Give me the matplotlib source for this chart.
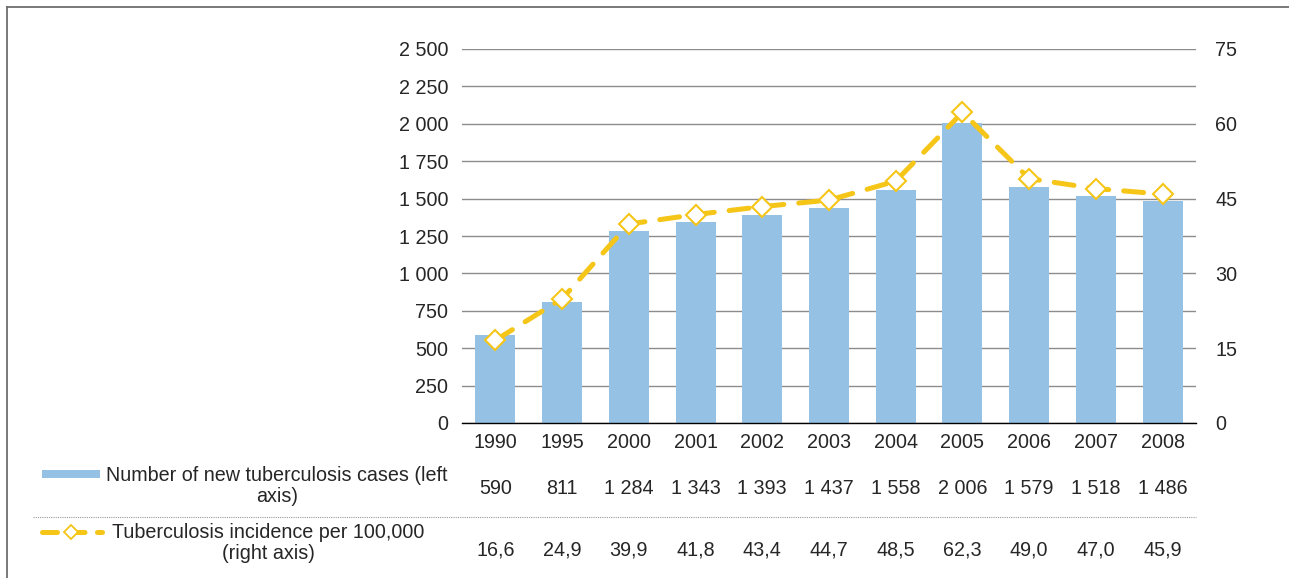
import matplotlib
matplotlib.use("Agg")
import matplotlib.pyplot as plt
from matplotlib.lines import Line2D
from matplotlib.patches import Rectangle
import matplotlib.transforms as mtransforms
from matplotlib.ticker import FuncFormatter

plt.rcParams['font.family'] = ['Liberation Sans', 'DejaVu Sans']

years = ["1990", "1995", "2000", "2001", "2002", "2003", "2004", "2005", "2006", "2007", "2008"]
cases = [590, 811, 1284, 1343, 1393, 1437, 1558, 2006, 1579, 1518, 1486]
incidence = [16.6, 24.9, 39.9, 41.8, 43.4, 44.7, 48.5, 62.3, 49.0, 47.0, 45.9]
label_cases = "Number of new tuberculosis cases (left\naxis)"
label_inc = "Tuberculosis incidence per 100,000\n(right axis)"

BAR = "#95C1E4"
YEL = "#F5C518"
TXT = "#262626"
GRID = "#8C8C8C"
FS = 14.2

W, H = 1289, 578
fig = plt.figure(figsize=(W / 100, H / 100), dpi=100)
ax = fig.add_axes([462 / W, 1 - 423 / H, (1196 - 462) / W, (423 - 49) / H])

x = list(range(len(years)))
ax.bar(x, cases, width=0.6, color=BAR, zorder=2)
ax.set_xlim(-0.5, len(years) - 0.5)
ax.set_ylim(0, 2500)
ax.set_yticks(range(0, 2501, 250))
ax.yaxis.set_major_formatter(FuncFormatter(lambda v, p: f"{int(v):,}".replace(",", " ")))
ax.grid(axis='y', color=GRID, linewidth=1, zorder=0)
ax.set_axisbelow(True)
for s in ['left', 'right', 'top']:
    ax.spines[s].set_visible(False)
ax.spines['bottom'].set_color('black')
ax.spines['bottom'].set_linewidth(1)
ax.set_xticks(x)
ax.set_xticklabels(years)
ax.tick_params(axis='both', length=0, labelsize=FS, labelcolor=TXT)
ax.tick_params(axis='y', pad=10)
ax.tick_params(axis='x', pad=7)

ax2 = ax.twinx()
ax2.set_ylim(0, 75)
ax2.set_yticks(range(0, 76, 15))
for s in ['left', 'right', 'top', 'bottom']:
    ax2.spines[s].set_visible(False)
ax2.tick_params(axis='y', length=0, labelsize=FS, labelcolor=TXT, pad=14)
line, = ax2.plot(x, incidence, color=YEL, linewidth=3.6, linestyle=(0, (4.0, 3.0)),
                 dash_capstyle='round', marker='D', markersize=10.5,
                 markerfacecolor='white', markeredgecolor=YEL, markeredgewidth=1.5, zorder=3)

# data table
trans = mtransforms.blended_transform_factory(ax.transData, fig.transFigure)
for i in x:
    fig.text(i, 1 - 489 / H, f"{cases[i]:,}".replace(",", " "), transform=trans,
             ha='center', va='center', fontsize=FS, color=TXT)
    fig.text(i, 1 - 550 / H, f"{incidence[i]:.1f}".replace(".", ","), transform=trans,
             ha='center', va='center', fontsize=FS, color=TXT)

fig.text(277 / W, 1 - 486 / H, label_cases, ha='center', va='center', fontsize=FS,
         color=TXT, multialignment='center', linespacing=1.1)
fig.text(268 / W, 1 - 543 / H, label_inc, ha='center', va='center', fontsize=FS,
         color=TXT, multialignment='center', linespacing=1.1)

fig.add_artist(Rectangle((42 / W, 1 - 478 / H), 58 / W, 8 / H, transform=fig.transFigure,
                         facecolor=BAR, edgecolor='none'))
fig.add_artist(Line2D([42 / W, 102 / W], [1 - 532 / H] * 2, transform=fig.transFigure,
                      color=YEL, linewidth=3.6, linestyle=(0, (3.0, 2.5)),
                      dash_capstyle='round'))
fig.add_artist(Line2D([71 / W], [1 - 532 / H], transform=fig.transFigure, marker='D',
                      markersize=7, markerfacecolor='white', markeredgecolor=YEL,
                      markeredgewidth=1.3, linestyle='none'))

# separator
fig.add_artist(Line2D([33 / W, 1196 / W], [1 - 517 / H] * 2, transform=fig.transFigure,
                      color='#9a9a9a', linewidth=0.8, linestyle=(0, (1, 1))))

# outer frame
fig.add_artist(Line2D([6.5 / W, 6.5 / W], [0, 1 - 6.5 / H], transform=fig.transFigure,
                      color='#6e6e6e', linewidth=1.3))
fig.add_artist(Line2D([6.5 / W, 1], [1 - 6.5 / H] * 2, transform=fig.transFigure,
                      color='#6e6e6e', linewidth=1.3))

fig.savefig("out.png", dpi=100)
